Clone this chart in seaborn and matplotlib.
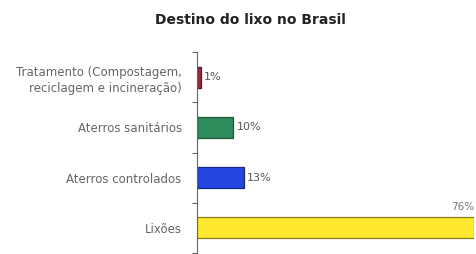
import seaborn as sns
import pandas as pd
import matplotlib.pyplot as plt
import numpy as np

categorias = ['Tratamento (Compostagem,\nreciclagem e incineração)',
              'Aterros sanitários', 'Aterros controlados', 'Lixões']
valores = [1, 10, 13, 76]
cores = ['#a3263f', '#2f8c5c', '#2346e0', '#ffe82e']
bordas = ['#5a1020', '#1d5a3a', '#14288a', '#8a7d20']

df = pd.DataFrame({'Destino': categorias, 'Percentual': valores})

sns.set_style('white')
fig = plt.figure(figsize=(4.76, 2.54), dpi=100)
ax = fig.add_axes([197 / 476, 1 - 253 / 254, 277 / 476, 201 / 254])

sns.barplot(data=df, x='Percentual', y='Destino', hue='Destino',
            palette=cores, saturation=1, width=0.42, linewidth=0.9,
            legend=False, ax=ax)
for patch, c in zip(ax.patches, bordas):
    patch.set_edgecolor(c)

ax.set_xlim(0, 76)
ax.set_ylim(3.5, -0.5)
ax.set_xlabel('')
ax.set_ylabel('')
ax.set_xticks([])

# ticks between categories, labels centered
ax.set_yticks(np.arange(len(categorias)))
ax.set_yticklabels(categorias, fontsize=8.5, color='#666666', linespacing=1.3)
ax.tick_params(axis='y', which='major', left=False, length=0, pad=11)
ax.set_yticks(np.arange(-0.5, len(categorias), 1), minor=True)
ax.tick_params(axis='y', which='minor', left=True, length=3.5, width=0.8,
               color='#666666')

for s in ['top', 'right', 'bottom']:
    ax.spines[s].set_visible(False)
ax.spines['left'].set_color('#666666')
ax.spines['left'].set_linewidth(0.8)

for i, v in enumerate(valores):
    if v == max(valores):
        ax.text(v, i - 0.32, f'{v}%', ha='right', va='bottom', fontsize=7.5,
                color='#777777')
    else:
        ax.text(v + 0.8, i, f'{v}%', ha='left', va='center', fontsize=8,
                color='#555555')

fig.text(250 / 476, 1 - 20 / 254, 'Destino do lixo no Brasil', ha='center',
         va='center', fontsize=10, fontweight='bold', color='#222222')

fig.savefig('out.png', dpi=100)
